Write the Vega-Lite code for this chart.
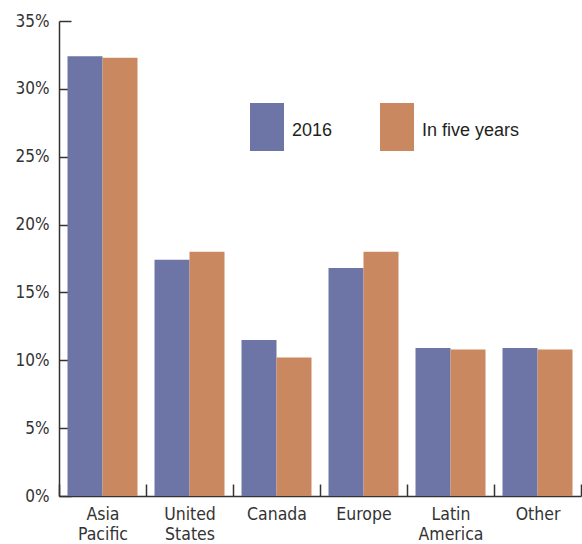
{
  "$schema": "https://vega.github.io/schema/vega-lite/v6.json",
  "width": 522,
  "height": 475,
  "autosize": "none",
  "padding": {"left": 59, "top": 21, "right": 1, "bottom": 48},
  "background": "white",
  "config": {
    "view": {"stroke": null},
    "axis": {"labelFont": "DejaVu Sans Condensed", "labelColor": "#333333", "domainColor": "#333333", "tickColor": "#333333", "domainWidth": 1.5, "tickWidth": 1.5, "grid": false, "title": null}
  },
  "data": {
    "values": [
      {"region": "Asia Pacific", "series": "2016", "share": 0.324},
      {"region": "Asia Pacific", "series": "In five years", "share": 0.323},
      {"region": "United States", "series": "2016", "share": 0.174},
      {"region": "United States", "series": "In five years", "share": 0.18},
      {"region": "Canada", "series": "2016", "share": 0.115},
      {"region": "Canada", "series": "In five years", "share": 0.102},
      {"region": "Europe", "series": "2016", "share": 0.168},
      {"region": "Europe", "series": "In five years", "share": 0.18},
      {"region": "Latin America", "series": "2016", "share": 0.109},
      {"region": "Latin America", "series": "In five years", "share": 0.108},
      {"region": "Other", "series": "2016", "share": 0.109},
      {"region": "Other", "series": "In five years", "share": 0.108}
    ]
  },
  "mark": {"type": "bar"},
  "encoding": {
    "x": {
      "field": "region", "type": "nominal", "sort": null,
      "scale": {"paddingInner": 0, "paddingOuter": 0},
      "axis": {"labelAngle": 0, "labelFontSize": 17.5, "labelLineHeight": 19.5, "tickBand": "extent", "tickSize": -12, "labelPadding": 21.5, "labelExpr": "split(datum.label, ' ')"}
    },
    "xOffset": {"field": "series", "type": "nominal", "scale": {"paddingInner": 0, "paddingOuter": 0.243}},
    "y": {
      "field": "share", "type": "quantitative",
      "scale": {"domain": [0, 0.35], "nice": false},
      "axis": {"values": [0, 0.05, 0.1, 0.15, 0.2, 0.25, 0.3, 0.35], "format": ".0%", "labelFontSize": 17, "tickSize": -12, "labelPadding": 22}
    },
    "color": {
      "field": "series", "type": "nominal",
      "scale": {"domain": ["2016", "In five years"], "range": ["#6D74A6", "#C9885F"]},
      "legend": {
        "title": null, "orient": "none", "legendX": 184, "legendY": 86, "direction": "horizontal",
        "symbolType": "M-0.708,-1.167H0.708V0.833H-0.708Z", "symbolSize": 2304, "symbolStrokeWidth": 0,
        "labelFont": "Liberation Sans", "labelFontSize": 18, "labelColor": "#231F20", "labelOffset": 1, "columnPadding": 40
      }
    }
  }
}
